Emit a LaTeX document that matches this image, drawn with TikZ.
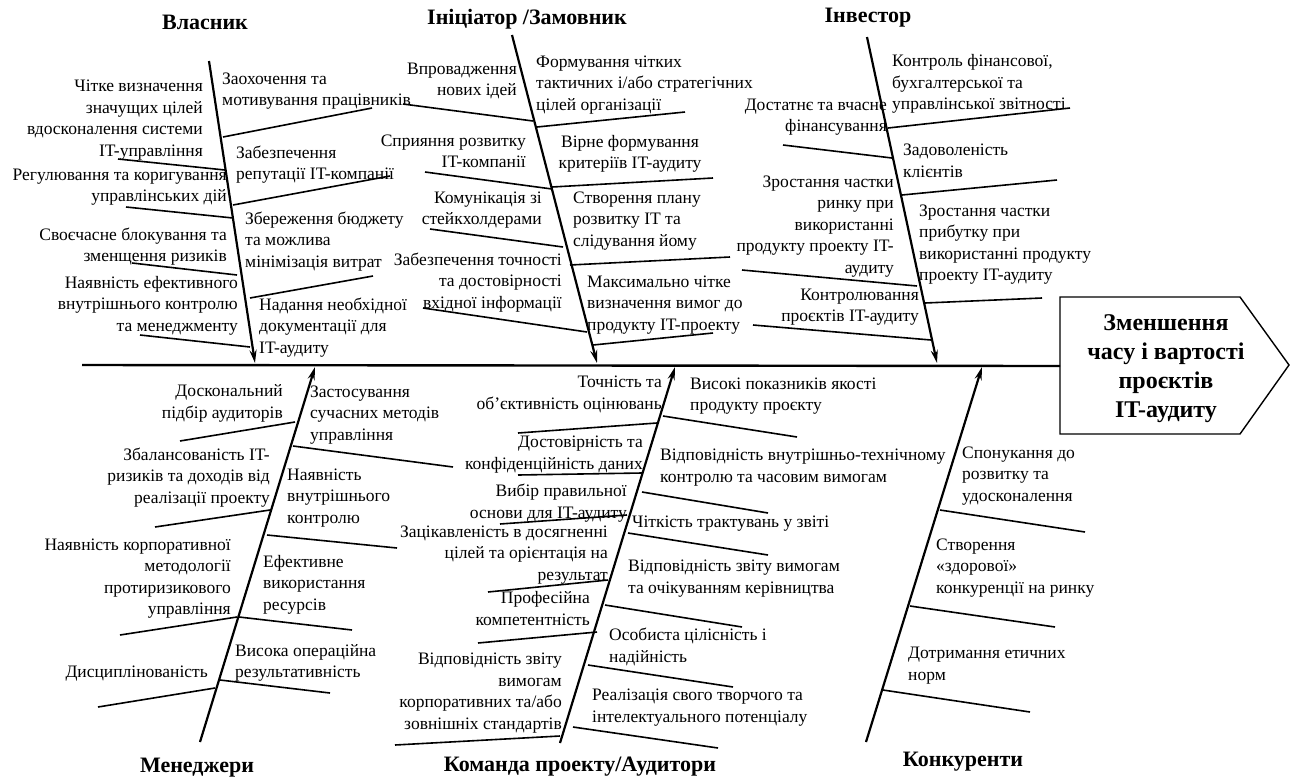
\documentclass[tikz,border=0pt]{standalone}
\usepackage{fontspec}
\setmainfont{Liberation Serif}
\usetikzlibrary{arrows.meta}

\tikzset{
  cause/.style={font=\fontsize{17.5}{21.5}\selectfont, inner sep=0pt},
  causeL/.style={cause, align=right, anchor=base east},
  causeR/.style={cause, align=left, anchor=base west},
  group/.style={font=\fontsize{22}{26}\selectfont\bfseries, inner sep=0pt},
  bone/.style={line width=2.2pt, -{Stealth[length=13pt,width=7pt]}},
  twig/.style={line width=1.6pt},
}

\begin{document}
\begin{tikzpicture}[x=1pt, y=-1pt]
  \useasboundingbox (0,0) rectangle (1296,780);

  % spine and goal
  \coordinate (tail) at (82,365);
  \coordinate (g1) at (1060,297);
  \coordinate (g2) at (1240,297);
  \coordinate (g3) at (1289,365);
  \coordinate (g4) at (1240,434);
  \coordinate (g5) at (1060,434);
  \coordinate (head) at (1060,366);
  \draw[line width=1.4pt] (g1)--(g2)--(g3)--(g4)--(g5)--cycle;
  \node[font=\fontsize{24}{29}\selectfont\bfseries, align=center] (goal) at (1166,369)
    {Зменшення\\часу і вартості\\проєктів\\IT-аудиту};
  \draw[line width=2.4pt] (tail) -- (head);

  % main bones
  \coordinate (o-top) at (209,61);   \coordinate (o-tip) at (255,363);
  \coordinate (i-top) at (512,35);   \coordinate (i-tip) at (597,363);
  \coordinate (v-top) at (867,37);   \coordinate (v-tip) at (937,363);
  \coordinate (m-bot) at (200,742);  \coordinate (m-tip) at (315,367);
  \coordinate (t-bot) at (560,743);  \coordinate (t-tip) at (675,367);
  \coordinate (k-bot) at (866,742);  \coordinate (k-tip) at (982,367);
  \draw[bone] (o-top) -- (o-tip);
  \draw[bone] (i-top) -- (i-tip);
  \draw[bone] (v-top) -- (v-tip);
  \draw[bone] (m-bot) -- (m-tip);
  \draw[bone] (t-bot) -- (t-tip);
  \draw[bone] (k-bot) -- (k-tip);

  % group titles
  \node[group] (owner) at (205,22) {Власник};
  \node[group] (initiator) at (527,19) {Ініціатор /Замовник};
  \node[group] (investor) at (868,18) {Інвестор};
  \node[group] (managers) at (197,768) {Менеджери};
  \node[group] (team) at (580,767) {Команда проекту/Аудитори};
  \node[group] (rivals) at (963,762) {Конкуренти};

  % twigs
  \coordinate (ol1-a) at (118,159); \coordinate (ol1-b) at (225,170);
  \coordinate (ol2-a) at (126,207); \coordinate (ol2-b) at (233,218);
  \coordinate (ol3-a) at (132,263); \coordinate (ol3-b) at (237,275);
  \coordinate (ol4-a) at (140,335); \coordinate (ol4-b) at (250,347);
  \coordinate (or1-a) at (223,137); \coordinate (or1-b) at (372,108);
  \coordinate (or2-a) at (233,205); \coordinate (or2-b) at (390,176);
  \coordinate (or3-a) at (250,298); \coordinate (or3-b) at (373,276);
  \coordinate (il1-a) at (403,104); \coordinate (il1-b) at (533,121);
  \coordinate (il2-a) at (425,172); \coordinate (il2-b) at (552,189);
  \coordinate (il3-a) at (430,229); \coordinate (il3-b) at (563,247);
  \coordinate (il4-a) at (423,308); \coordinate (il4-b) at (587,332);
  \coordinate (ir1-a) at (537,127); \coordinate (ir1-b) at (685,112);
  \coordinate (ir2-a) at (552,187); \coordinate (ir2-b) at (713,178);
  \coordinate (ir3-a) at (570,265); \coordinate (ir3-b) at (730,257);
  \coordinate (ir4-a) at (593,345); \coordinate (ir4-b) at (713,333);
  \coordinate (vl1-a) at (783,145); \coordinate (vl1-b) at (892,158);
  \coordinate (vl2-a) at (742,270); \coordinate (vl2-b) at (917,286);
  \coordinate (vl3-a) at (753,325); \coordinate (vl3-b) at (931,340);
  \coordinate (vr1-a) at (888,128); \coordinate (vr1-b) at (1070,108);
  \coordinate (vr2-a) at (902,195); \coordinate (vr2-b) at (1057,180);
  \coordinate (vr3-a) at (925,303); \coordinate (vr3-b) at (1042,298);
  \coordinate (ml1-a) at (180,441); \coordinate (ml1-b) at (295,422);
  \coordinate (ml2-a) at (155,527); \coordinate (ml2-b) at (270,510);
  \coordinate (ml3-a) at (120,635); \coordinate (ml3-b) at (237,617);
  \coordinate (ml4-a) at (98,707);  \coordinate (ml4-b) at (215,688);
  \coordinate (mr1-a) at (293,446); \coordinate (mr1-b) at (453,467);
  \coordinate (mr2-a) at (267,535); \coordinate (mr2-b) at (397,548);
  \coordinate (mr3-a) at (239,617); \coordinate (mr3-b) at (352,630);
  \coordinate (mr4-a) at (220,680); \coordinate (mr4-b) at (330,693);
  \coordinate (tl1-a) at (518,433); \coordinate (tl1-b) at (657,423);
  \coordinate (tl2-a) at (518,475); \coordinate (tl2-b) at (642,473);
  \coordinate (tl3-a) at (500,524); \coordinate (tl3-b) at (627,515);
  \coordinate (tl4-a) at (488,592); \coordinate (tl4-b) at (608,580);
  \coordinate (tl5-a) at (478,643); \coordinate (tl5-b) at (597,632);
  \coordinate (tl6-a) at (395,745); \coordinate (tl6-b) at (560,736);
  \coordinate (tr1-a) at (663,416); \coordinate (tr1-b) at (797,437);
  \coordinate (tr2-a) at (642,492); \coordinate (tr2-b) at (768,513);
  \coordinate (tr3-a) at (628,533); \coordinate (tr3-b) at (768,555);
  \coordinate (tr4-a) at (605,605); \coordinate (tr4-b) at (742,627);
  \coordinate (tr5-a) at (588,665); \coordinate (tr5-b) at (733,687);
  \coordinate (tr6-a) at (573,727); \coordinate (tr6-b) at (718,748);
  \coordinate (kr1-a) at (940,510); \coordinate (kr1-b) at (1085,532);
  \coordinate (kr2-a) at (910,606); \coordinate (kr2-b) at (1055,627);
  \coordinate (kr3-a) at (883,690); \coordinate (kr3-b) at (1030,712);
  \foreach \t in {ol1,ol2,ol3,ol4,or1,or2,or3,
                  il1,il2,il3,il4,ir1,ir2,ir3,ir4,
                  vl1,vl2,vl3,vr1,vr2,vr3,
                  ml1,ml2,ml3,ml4,mr1,mr2,mr3,mr4,
                  tl1,tl2,tl3,tl4,tl5,tl6,tr1,tr2,tr3,tr4,tr5,tr6,
                  kr1,kr2,kr3}
    \draw[twig] (\t-a) -- (\t-b);

  % owner (base = last line)
  \node[causeL] (ol1) at (203,156) {Чітке визначення\\значущих цілей\\вдосконалення системи\\IT-управління};
  \node[causeL] (ol2) at (227,201.5) {Регулювання та коригування\\управлінських дій};
  \node[causeL] (ol3) at (227,261.5) {Своєчасне блокування та\\зменщення ризиків};
  \node[causeL] (ol4) at (238,331) {Наявність ефективного\\внутрішнього контролю\\та менеджменту};
  \node[causeR] (or1) at (222,105.5) {Заохочення та\\мотивування працівників};
  \node[causeR] (or2) at (236,179.5) {Забезпечення\\репутації IT-компанії};
  \node[causeR] (or3) at (245,267) {Збереження бюджету\\та можлива\\мінімізація витрат};
  \node[causeR] (or4) at (259,353) {Надання необхідної\\документації для\\IT-аудиту};

  % initiator
  \node[causeL] (il1) at (517,95.5) {Впровадження\\нових ідей};
  \node[causeL] (il2) at (526,167.5) {Сприяння розвитку\\IT-компанії};
  \node[causeL] (il3) at (542,224.5) {Комунікація зі\\стейкхолдерами};
  \node[causeL] (il4) at (562,308) {Забезпечення точності\\та достовірності\\вхідної інформації};
  \node[causeR] (ir1) at (536,110) {Формування чітких\\тактичних і/або стратегічних\\цілей організації};
  \node[cause, align=center, anchor=base] (ir2) at (630,168.5) {Вірне формування\\критеріїв IT-аудиту};
  \node[causeR] (ir3) at (573,246) {Створення плану\\розвитку IT та\\слідування йому};
  \node[causeR] (ir4) at (587,330) {Максимально чітке\\визначення вимог до\\продукту IT-проекту};

  % investor
  \node[causeL] (vl1) at (887,131.5) {Достатнє та вчасне\\фінансування};
  \node[causeL] (vl2) at (894,273) {Зростання частки\\ринку при\\використанні\\продукту проекту IT-\\аудиту};
  \node[causeL] (vl3) at (919,321.5) {Контролювання\\проєктів IT-аудиту};
  \node[causeR] (vr1) at (892,109.5) {Контроль фінансової,\\бухгалтерської та\\управлінської звітності};
  \node[causeR] (vr2) at (903,177) {Задоволеність\\клієнтів};
  \node[causeR] (vr3) at (919,280.5) {Зростання частки\\прибутку при\\використанні продукту\\проекту IT-аудиту};

  % managers
  \node[causeL] (ml1) at (283,418) {Доскональний\\підбір аудиторів};
  \node[causeL] (ml2) at (270,503) {Збалансованість IT-\\ризиків та доходів від\\реалізації проекту};
  \node[causeL] (ml3) at (231,614.5) {Наявність корпоративної\\методології\\протиризикового\\управління};
  \node[causeL] (ml4) at (208,677) {Дисциплінованість};
  \node[causeR] (mr1) at (310,440) {Застосування\\сучасних методів\\управління};
  \node[causeR] (mr2) at (287,523) {Наявність\\внутрішнього\\контролю};
  \node[causeR] (mr3) at (263,610) {Ефективне\\використання\\ресурсів};
  \node[causeR] (mr4) at (235,677.5) {Висока операційна\\результативність};

  % team
  \node[causeL] (tl1) at (662,409) {Точність та\\об’єктивність оцінювань};
  \node[causeL] (tl2) at (643,469) {Достовірність та\\конфіденційність даних};
  \node[causeL] (tl3) at (627,518) {Вибір правильної\\основи для IT-аудиту};
  \node[causeL] (tl4) at (608,580) {Зацікавленість в досягненні\\цілей та орієнтація на\\результат};
  \node[causeL] (tl5) at (590,625) {Професійна\\компетентність};
  \node[causeL] (tl6) at (562,729) {Відповідність звіту\\вимогам\\корпоративних та/або\\зовнішніх стандартів};
  \node[causeR] (tr1) at (690,410.5) {Високі показників якості\\продукту проєкту};
  \node[causeR] (tr2) at (660,482) {Відповідність внутрішньо-технічному\\контролю та часовим вимогам};
  \node[causeR] (tr3) at (632,527) {Чіткість трактувань у звіті};
  \node[causeR] (tr4) at (628,593) {Відповідність звіту вимогам\\та очікуванням керівництва};
  \node[causeR] (tr5) at (609,662) {Особиста цілісність і\\надійність};
  \node[causeR] (tr6) at (592,722) {Реалізація свого творчого та\\інтелектуального потенціалу};

  % rivals
  \node[causeR] (kr1) at (962,501) {Спонукання до\\розвитку та\\удосконалення};
  \node[causeR] (kr2) at (936,593) {Створення\\«здорової»\\конкуренції на ринку};
  \node[causeR] (kr3) at (908,680) {Дотримання етичних\\норм};
\end{tikzpicture}
\end{document}
